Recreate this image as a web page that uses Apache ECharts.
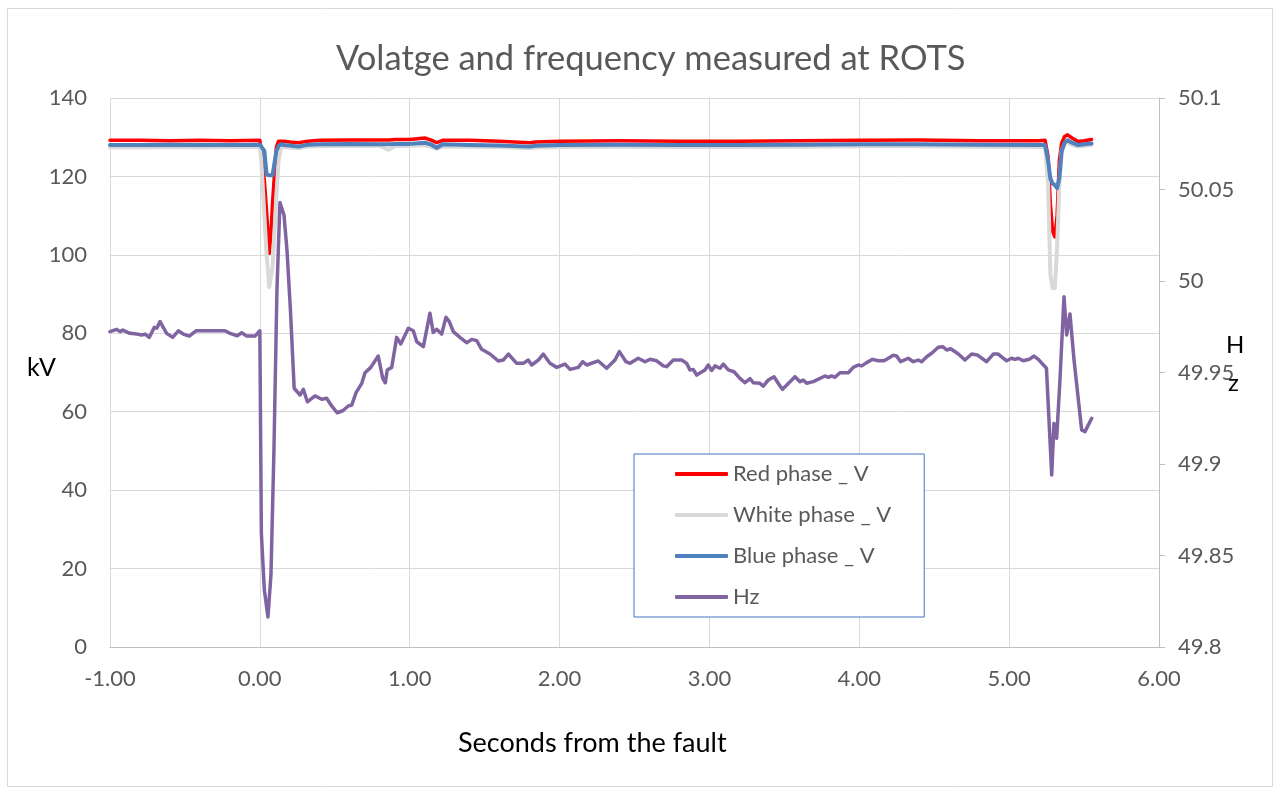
<!DOCTYPE html>
<html>
<head>
<meta charset="utf-8">
<title>Volatge and frequency measured at ROTS</title>
<script src="https://cdn.jsdelivr.net/npm/echarts@6/dist/echarts.min.js"></script>
<style>
  html, body { margin: 0; padding: 0; background: #fff; }
  #chart { width: 1274px; height: 788px; }
</style>
</head>
<body>
<div id="chart"></div>
<script>
// seconds from the fault, shared by the three phase voltages
const voltTime = [-1.00, -0.80, -0.60, -0.40, -0.20, 0.00, 0.01, 0.03, 0.045, 0.063, 0.075, 0.085, 0.11, 0.125, 0.14,
  0.16, 0.20, 0.26, 0.32, 0.40, 0.60, 0.80, 0.86, 0.90, 1.00, 1.10, 1.14, 1.18, 1.22, 1.40, 1.60, 1.80, 1.84,
  2.00, 2.40, 2.80, 3.20, 3.60, 4.00, 4.40, 4.80, 5.20, 5.24, 5.26, 5.275, 5.29, 5.305, 5.32, 5.335, 5.35,
  5.37, 5.39, 5.42, 5.46, 5.50, 5.55]
const redV = [129.2, 129.2, 129.1, 129.2, 129.1, 129.2, 129.0, 119.0, 111.0, 100.4, 106.0, 113.5, 127.5, 129.0, 129.0,
  129.0, 128.8, 128.6, 129.0, 129.2, 129.3, 129.3, 129.3, 129.4, 129.4, 129.8, 129.3, 128.6, 129.2, 129.2, 129.0, 128.6, 128.8,
  129.0, 129.1, 129.0, 129.0, 129.1, 129.2, 129.3, 129.1, 129.1, 129.2, 125.0, 113.0, 106.0, 104.6, 110.0, 124.0, 128.5,
  130.2, 130.6, 129.8, 128.9, 129.1, 129.4]
const whiteV = [127.4, 127.4, 127.5, 127.4, 127.5, 127.5, 124.0, 110.0, 100.0, 91.8, 92.0, 97.0, 115.0, 124.0, 127.3,
  127.5, 127.4, 127.2, 127.6, 127.7, 127.8, 127.8, 126.8, 127.7, 127.8, 128.0, 127.6, 127.0, 127.6, 127.6, 127.5, 127.2, 127.4,
  127.5, 127.6, 127.5, 127.5, 127.6, 127.7, 127.7, 127.6, 127.5, 127.5, 118.0, 95.0, 91.5, 91.5, 102.0, 118.0, 126.5,
  128.3, 128.8, 128.0, 127.6, 127.8, 128.0]
const blueV = [128.0, 128.0, 128.1, 128.0, 128.0, 128.1, 128.0, 126.5, 120.5, 120.3, 120.3, 120.3, 126.5, 127.8, 128.2,
  128.0, 127.9, 127.6, 128.1, 128.2, 128.3, 128.2, 128.2, 128.3, 128.3, 128.6, 128.2, 127.3, 128.2, 128.0, 127.9, 127.6, 127.8,
  128.0, 128.1, 128.0, 128.0, 128.1, 128.2, 128.2, 128.1, 128.0, 128.0, 124.0, 119.5, 118.2, 117.8, 117.0, 119.6, 126.3,
  128.6, 129.2, 128.6, 128.0, 128.2, 128.4]

// frequency samples
const hzTime = [-1.000, -0.955, -0.933, -0.915, -0.867, -0.822, -0.788, -0.766, -0.738, -0.704, -0.688, -0.666, -0.622,
  -0.582, -0.544, -0.511, -0.471, -0.426, -0.233, -0.199, -0.151, -0.121, -0.088, -0.032, 0.000,
  0.010, 0.030, 0.054, 0.074, 0.094, 0.114, 0.134, 0.161, 0.181, 0.204, 0.229,
  0.268, 0.290, 0.317, 0.368, 0.413, 0.446, 0.479, 0.517, 0.553, 0.590, 0.613, 0.642, 0.680, 0.702, 0.740, 0.790,
  0.820, 0.837, 0.850, 0.880, 0.913, 0.940, 0.991, 1.024, 1.047, 1.091, 1.135, 1.157, 1.180, 1.213, 1.242, 1.264,
  1.291, 1.335, 1.380, 1.414, 1.447, 1.480, 1.536, 1.591, 1.624, 1.658, 1.714, 1.758, 1.791, 1.814, 1.858, 1.891,
  1.936, 1.981, 2.036, 2.070, 2.125, 2.154, 2.181, 2.258, 2.314, 2.370, 2.399, 2.443, 2.470, 2.525, 2.570, 2.603,
  2.648, 2.692, 2.714, 2.759, 2.815, 2.848, 2.870, 2.892, 2.915, 2.970, 2.992, 3.015, 3.037, 3.070, 3.093, 3.126,
  3.164, 3.204, 3.237, 3.271, 3.293, 3.337, 3.359, 3.393, 3.431, 3.471, 3.488, 3.571, 3.604, 3.626, 3.649, 3.693,
  3.771, 3.793, 3.816, 3.838, 3.871, 3.927, 3.960, 3.993, 4.016, 4.049, 4.089, 4.127, 4.160, 4.183, 4.227, 4.249,
  4.276, 4.327, 4.360, 4.394, 4.416, 4.450, 4.483, 4.527, 4.557, 4.583, 4.610, 4.661, 4.705, 4.750, 4.787, 4.850,
  4.894, 4.927, 4.983, 5.017, 5.039, 5.061, 5.094, 5.134, 5.166, 5.195, 5.249, 5.284, 5.299, 5.317, 5.339, 5.366,
  5.384, 5.406, 5.433, 5.484, 5.506, 5.551]
const hzValues = [49.9723, 49.9736, 49.9723, 49.9732, 49.9714, 49.9710, 49.9705, 49.9710, 49.9692, 49.9747, 49.9742, 49.9778, 49.9714,
  49.9692, 49.9728, 49.9710, 49.9699, 49.9728, 49.9728, 49.9714, 49.9701, 49.9717, 49.9699, 49.9699, 49.9728,
  49.8623, 49.8311, 49.8164, 49.8393, 49.9076, 49.9951, 50.0429, 50.0361, 50.0169, 49.9842, 49.9414,
  49.9377, 49.9408, 49.9340, 49.9372, 49.9354, 49.9359, 49.9317, 49.9280, 49.9291, 49.9317, 49.9322, 49.9390, 49.9441, 49.9499, 49.9528, 49.9590,
  49.9468, 49.9444, 49.9514, 49.9528, 49.9692, 49.9656, 49.9742, 49.9728, 49.9668, 49.9641, 49.9824, 49.9718, 49.9736, 49.9710, 49.9802, 49.9778,
  49.9723, 49.9692, 49.9663, 49.9681, 49.9674, 49.9627, 49.9601, 49.9563, 49.9568, 49.9601, 49.9550, 49.9550, 49.9568, 49.9541, 49.9568, 49.9601,
  49.9550, 49.9528, 49.9546, 49.9517, 49.9528, 49.9559, 49.9541, 49.9563, 49.9523, 49.9568, 49.9614, 49.9559, 49.9550, 49.9578, 49.9559, 49.9572,
  49.9564, 49.9536, 49.9532, 49.9568, 49.9568, 49.9550, 49.9514, 49.9517, 49.9486, 49.9514, 49.9541, 49.9511, 49.9536, 49.9523, 49.9546, 49.9514,
  49.9504, 49.9468, 49.9444, 49.9466, 49.9444, 49.9441, 49.9426, 49.9459, 49.9477, 49.9426, 49.9408, 49.9477, 49.9450, 49.9459, 49.9441, 49.9450,
  49.9481, 49.9474, 49.9481, 49.9474, 49.9499, 49.9499, 49.9528, 49.9541, 49.9536, 49.9554, 49.9572, 49.9564, 49.9564, 49.9572, 49.9594, 49.9590,
  49.9559, 49.9578, 49.9559, 49.9568, 49.9559, 49.9586, 49.9605, 49.9638, 49.9641, 49.9623, 49.9630, 49.9601, 49.9568, 49.9601, 49.9596, 49.9559,
  49.9601, 49.9601, 49.9564, 49.9578, 49.9572, 49.9578, 49.9564, 49.9572, 49.9590, 49.9572, 49.9523, 49.8940, 49.9222, 49.9140, 49.9459, 49.9914,
  49.9705, 49.9820, 49.9568, 49.9186, 49.9177, 49.9250]

const kvTicks = { min: 0, max: 140, step: 20 }
const hzTicks = { min: 49.8, max: 50.1, step: 0.05 }
const secTicks = { min: -1, max: 6, step: 1 }

const chart = echarts.init(document.getElementById('chart'))

const pair = (xs, ys) => xs.map((x, i) => [x, ys[i]])
const textColor = '#595959'
const font = 'Lato, "Open Sans", sans-serif'

function lineSeries(name, color, width, yIndex, data) {
  return {
    name: name,
    type: 'line',
    yAxisIndex: yIndex,
    data: data,
    symbol: 'none',
    lineStyle: { color: color, width: width, cap: 'round', join: 'round' },
    itemStyle: { color: color }
  }
}

const option = {
  animation: false,
  backgroundColor: '#fff',
  textStyle: { fontFamily: font },
  title: {
    text: 'Volatge and frequency measured at ROTS',
    left: 331,
    top: 36,
    textStyle: { color: textColor, fontSize: 34.5, fontWeight: 'normal', fontFamily: font }
  },
  grid: { left: 110, right: 115, top: 98, bottom: 141 },
  legend: {
    orient: 'vertical',
    left: 634,
    top: 454,
    padding: [9, 33, 9, 41],
    itemGap: 19,
    itemWidth: 53,
    itemHeight: 4,
    icon: 'roundRect',
    backgroundColor: '#fff',
    borderColor: '#4472c4',
    borderWidth: 1,
    textStyle: { color: textColor, fontSize: 22, fontFamily: font },
    data: ['Red phase _ V', 'White phase _ V', 'Blue phase _ V', 'Hz']
  },
  xAxis: {
    type: 'value',
    min: secTicks.min,
    max: secTicks.max,
    interval: secTicks.step,
    axisLine: { show: true, onZero: false, lineStyle: { color: '#bfbfbf' } },
    axisTick: { show: false },
    axisLabel: { color: textColor, fontSize: 22, margin: 21, formatter: v => v.toFixed(2) },
    splitLine: { show: true, lineStyle: { color: '#d9d9d9', width: 1 } }
  },
  yAxis: [
    {
      type: 'value',
      min: kvTicks.min,
      max: kvTicks.max,
      interval: kvTicks.step,
      axisLine: { show: true, lineStyle: { color: '#d9d9d9' } },
      axisTick: { show: false },
      axisLabel: { color: textColor, fontSize: 22, margin: 23 },
      splitLine: { show: true, lineStyle: { color: '#d9d9d9', width: 1 } }
    },
    {
      type: 'value',
      position: 'right',
      min: hzTicks.min,
      max: hzTicks.max,
      interval: hzTicks.step,
      axisLine: { show: true, lineStyle: { color: '#bfbfbf' } },
      axisTick: { show: true, length: 6, lineStyle: { color: '#bfbfbf' } },
      axisLabel: { color: textColor, fontSize: 22, margin: 19, formatter: v => String(+v.toFixed(2)) },
      splitLine: { show: false }
    }
  ],
  graphic: [
    {
      type: 'rect', silent: true, z: -10,
      shape: { x: 7.5, y: 8.5, width: 1265, height: 778 },
      style: { fill: 'none', stroke: '#d9d9d9', lineWidth: 1 }
    },
    {
      type: 'text', left: 27, top: 355,
      style: { text: 'kV', fill: '#000', font: '25px ' + font }
    },
    {
      type: 'text', left: 1226, top: 333,
      style: { text: 'H', fill: '#000', font: '24px ' + font }
    },
    {
      type: 'text', left: 1228, top: 371,
      style: { text: 'z', fill: '#000', font: '24px ' + font }
    },
    {
      type: 'text', left: 458, top: 730,
      style: { text: 'Seconds from the fault', fill: '#000', font: '27px ' + font }
    }
  ],
  series: [
    lineSeries('Red phase _ V', '#ff0000', 3.5, 0, pair(voltTime, redV)),
    lineSeries('White phase _ V', '#d9d9d9', 4, 0, pair(voltTime, whiteV)),
    lineSeries('Blue phase _ V', '#4f81bd', 4, 0, pair(voltTime, blueV)),
    lineSeries('Hz', '#8064a2', 3.5, 1, pair(hzTime, hzValues))
  ]
}

chart.setOption(option)
</script>
</body>
</html>
